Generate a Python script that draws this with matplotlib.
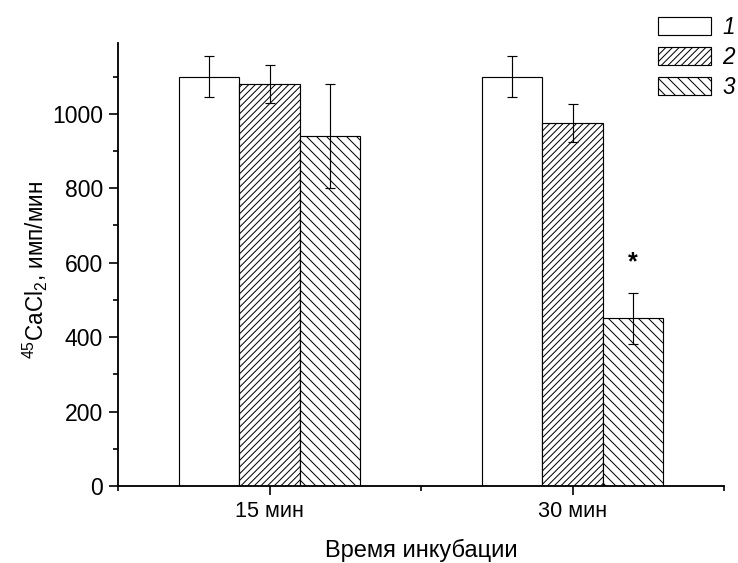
import matplotlib
matplotlib.use('Agg')
import matplotlib.pyplot as plt
import numpy as np

plt.rcParams['font.family'] = ['Liberation Sans', 'DejaVu Sans']
plt.rcParams['mathtext.default'] = 'regular'
plt.rcParams['hatch.linewidth'] = 0.6

times = ['15 мин', '30 мин']
series = ['1', '2', '3']
values = [[1100, 1080, 940],
          [1100, 975, 450]]
errors = [[55, 52, 140],
          [55, 50, 68]]
hatches = ['', '//////', '\\\\\\\\']

fig = plt.figure(figsize=(738 / 120, 563 / 120), dpi=120)
ax = fig.add_axes([118 / 738, 1 - 486 / 563, (724 - 118) / 738, (486 - 43) / 563])

x = np.array([1, 2])
w = 0.2
vals = np.array(values)
errs = np.array(errors)
for i in range(3):
    ax.bar(x + (i - 1) * w, vals[:, i], w, color='white', edgecolor='black',
           linewidth=0.7, hatch=hatches[i], label=series[i])
    ax.errorbar(x + (i - 1) * w, vals[:, i], yerr=errs[:, i], fmt='none',
                ecolor='black', elinewidth=0.7, capsize=2.8, capthick=0.7)

# значимое отличие
ax.text(2 + w, 600, '*', ha='center', va='center', fontsize=15, fontweight='bold')

ax.set_xlim(0.5, 2.5)
ax.set_ylim(0, 1190)
ax.set_xticks(x)
ax.set_xticklabels(times, fontsize=13)
ax.set_xticks([0.5, 1.5, 2.5], minor=True)
ax.set_yticks(np.arange(0, 1001, 200))
ax.set_yticks(np.arange(100, 1101, 200), minor=True)
ax.tick_params(which='major', length=5.4, width=1, direction='out')
ax.tick_params(axis='y', labelsize=13.8)
ax.tick_params(which='minor', length=3, width=1, direction='out')
for s in ['top', 'right']:
    ax.spines[s].set_visible(False)
for s in ['left', 'bottom']:
    ax.spines[s].set_linewidth(1.1)

ax.set_ylabel('$^{45}$CaCl$_2$, имп/мин', fontsize=13.5)
ax.yaxis.set_label_coords(-0.113, 0.488)
ax.set_xlabel('Время инкубации', fontsize=14.2, labelpad=10)

leg = ax.legend(loc='upper left', bbox_to_anchor=(658 / 738, 1 - 16 / 563),
                bbox_transform=fig.transFigure, frameon=False, fontsize=13.5,
                handlelength=2.35, handleheight=0.85, handletextpad=0.5,
                labelspacing=0.3, borderpad=0, borderaxespad=0)
for t in leg.get_texts():
    t.set_fontstyle('italic')

fig.savefig('out.png', dpi=120)
